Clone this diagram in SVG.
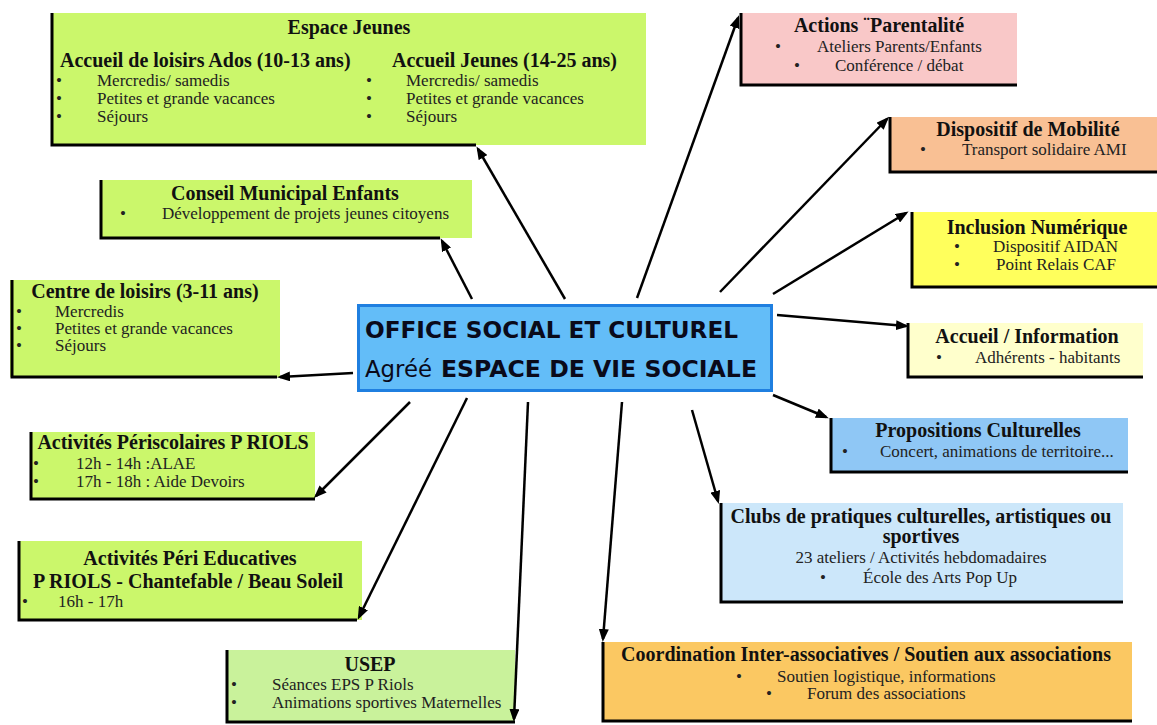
<svg xmlns="http://www.w3.org/2000/svg" width="1157" height="725" viewBox="0 0 1157 725">
<defs>
<marker id="ah" viewBox="0 0 13 10" refX="10" refY="5" markerWidth="13" markerHeight="10" markerUnits="userSpaceOnUse" orient="auto">
<path d="M0,0 L13,5 L0,10 z" fill="#000"/>
</marker>
</defs>
<style>
.t{font-family:"Liberation Serif","Times New Roman",serif;font-weight:bold;font-size:20px;fill:#111}
.b{font-family:"Liberation Serif","Times New Roman",serif;font-size:17px;fill:#222}
.c{text-anchor:middle}
.edge{stroke:#000;stroke-width:3;fill:none}
.green{fill:#cbf76b}
.conn line{stroke:#000;stroke-width:2.5;marker-end:url(#ah)}
.m{font-family:"DejaVu Sans","Verdana",sans-serif;font-size:23px;fill:#0a0a1a}
</style>
<rect width="1157" height="725" fill="#fff"/>

<g id="espace-jeunes">
<rect class="green" x="51" y="13" width="595" height="132"/>
<path class="edge" d="M52,13 V145 H476"/>
<text class="t c" x="349" y="34">Espace Jeunes</text>
<text class="t" x="60" y="67">Accueil de loisirs Ados (10-13 ans)</text>
<text class="t" x="392" y="67">Accueil Jeunes (14-25 ans)</text>
<text class="b" x="56" y="86">•</text><text class="b" x="97" y="86">Mercredis/ samedis</text>
<text class="b" x="56" y="104">•</text><text class="b" x="97" y="104">Petites et grande vacances</text>
<text class="b" x="56" y="122">•</text><text class="b" x="97" y="122">Séjours</text>
<text class="b" x="366" y="86">•</text><text class="b" x="406" y="86">Mercredis/ samedis</text>
<text class="b" x="366" y="104">•</text><text class="b" x="406" y="104">Petites et grande vacances</text>
<text class="b" x="366" y="122">•</text><text class="b" x="406" y="122">Séjours</text>
</g>

<g id="conseil-municipal">
<rect class="green" x="100" y="180" width="372" height="58"/>
<path class="edge" d="M101,180 V238 H440"/>
<text class="t c" x="285" y="200">Conseil Municipal Enfants</text>
<text class="b" x="120" y="219">•</text><text class="b" x="162" y="219">Développement de projets jeunes citoyens</text>
</g>

<g id="centre-loisirs">
<rect class="green" x="10" y="280" width="270" height="97"/>
<path class="edge" d="M12,280 V377 H277"/>
<text class="t c" x="145" y="298">Centre de loisirs (3-11 ans)</text>
<text class="b" x="16" y="317">•</text><text class="b" x="55" y="317">Mercredis</text>
<text class="b" x="16" y="334">•</text><text class="b" x="55" y="334">Petites et grande vacances</text>
<text class="b" x="16" y="351">•</text><text class="b" x="55" y="351">Séjours</text>
</g>

<g id="periscolaires">
<rect class="green" x="30" y="432" width="285" height="67"/>
<path class="edge" d="M31,432 V499 H315"/>
<text class="t c" x="173" y="449">Activités Périscolaires P RIOLS</text>
<text class="b" x="33" y="469">•</text><text class="b" x="76" y="469">12h - 14h :ALAE</text>
<text class="b" x="33" y="487">•</text><text class="b" x="76" y="487">17h - 18h : Aide Devoirs</text>
</g>

<g id="peri-educatives">
<rect class="green" x="18" y="541" width="344" height="79"/>
<path class="edge" d="M19,541 V620 H357"/>
<text class="t c" x="190" y="565">Activités Péri Educatives</text>
<text class="t c" x="188" y="588">P RIOLS - Chantefable / Beau Soleil</text>
<text class="b" x="22" y="607">•</text><text class="b" x="58" y="607">16h - 17h</text>
</g>

<g id="usep">
<rect x="226" y="650" width="289" height="73" fill="#c9f29b"/>
<path class="edge" d="M227,650 V722 H515"/>
<text class="t c" x="370" y="671">USEP</text>
<text class="b" x="231" y="690">•</text><text class="b" x="272" y="690">Séances EPS P Riols</text>
<text class="b" x="231" y="708">•</text><text class="b" x="272" y="708">Animations sportives Maternelles</text>
</g>

<g id="actions-parentalite">
<rect x="740" y="13" width="277" height="72" fill="#f9c8c8"/>
<path class="edge" d="M741,13 V85 H1017"/>
<text class="t c" x="879" y="32">Actions ¨Parentalité</text>
<text class="b" x="775" y="52">•</text><text class="b" x="817" y="52">Ateliers Parents/Enfants</text>
<text class="b" x="794" y="71">•</text><text class="b" x="835" y="71">Conférence / débat</text>
</g>

<g id="mobilite">
<rect x="889" y="117" width="268" height="55" fill="#f9c094"/>
<path class="edge" d="M890,117 V172 H1157"/>
<text class="t c" x="1028" y="136">Dispositif de Mobilité</text>
<text class="b" x="920" y="155">•</text><text class="b" x="962" y="155">Transport solidaire AMI</text>
</g>

<g id="inclusion-numerique">
<rect x="911" y="212" width="246" height="75" fill="#ffff5c"/>
<path class="edge" d="M912,212 V287 H1157"/>
<text class="t c" x="1037" y="234">Inclusion Numérique</text>
<text class="b" x="954" y="252">•</text><text class="b" x="993" y="252">Dispositif AIDAN</text>
<text class="b" x="954" y="270">•</text><text class="b" x="996" y="270">Point Relais CAF</text>
</g>

<g id="accueil-information">
<rect x="907" y="323" width="236" height="54" fill="#ffffcc"/>
<path class="edge" d="M908,323 V377 H1143"/>
<text class="t c" x="1027" y="343">Accueil / Information</text>
<text class="b" x="936" y="363">•</text><text class="b" x="975" y="363">Adhérents - habitants</text>
</g>

<g id="propositions-culturelles">
<rect x="830" y="418" width="298" height="54" fill="#8fc7f5"/>
<path class="edge" d="M831,418 V472 H1128"/>
<text class="t c" x="978" y="437">Propositions Culturelles</text>
<text class="b" x="842" y="457">•</text><text class="b" x="880" y="457">Concert, animations de territoire...</text>
</g>

<g id="clubs">
<rect x="720" y="503" width="403" height="99" fill="#cce7fa"/>
<path class="edge" d="M721,503 V602 H1123"/>
<text class="t c" x="921" y="523">Clubs de pratiques culturelles, artistiques ou</text>
<text class="t c" x="921" y="543">sportives</text>
<text class="b c" x="921" y="563">23 ateliers / Activités hebdomadaires</text>
<text class="b" x="820" y="583">•</text><text class="b" x="863" y="583">École des Arts Pop Up</text>
</g>

<g id="coordination">
<rect x="602" y="642" width="530" height="79" fill="#fbc862"/>
<path class="edge" d="M603,642 V721 H1132"/>
<text class="t c" x="866" y="661">Coordination Inter-associatives / Soutien aux associations</text>
<text class="b" x="736" y="682">•</text><text class="b" x="777" y="682">Soutien logistique, informations</text>
<text class="b" x="766" y="699">•</text><text class="b" x="807" y="699">Forum des associations</text>
</g>

<g id="office-central">
<rect x="358.5" y="305.5" width="413" height="85" fill="#63bdf8" stroke="#1f7fe0" stroke-width="3"/>
<text class="m" x="365" y="338" font-weight="bold" textLength="373" lengthAdjust="spacingAndGlyphs">OFFICE SOCIAL ET CULTUREL</text>
<text class="m" x="365" y="377" textLength="67" lengthAdjust="spacingAndGlyphs">Agréé</text>
<text class="m" x="441" y="377" font-weight="bold" textLength="316" lengthAdjust="spacingAndGlyphs">ESPACE DE VIE SOCIALE</text>
</g>

<g id="connectors" class="conn">
<line x1="565" y1="299" x2="478" y2="149"/>
<line x1="472" y1="299" x2="442" y2="241"/>
<line x1="353" y1="373" x2="280" y2="377"/>
<line x1="410" y1="402" x2="316" y2="496"/>
<line x1="467" y1="398" x2="359" y2="617"/>
<line x1="528" y1="402" x2="514" y2="719"/>
<line x1="622" y1="402" x2="603" y2="639"/>
<line x1="692" y1="410" x2="718" y2="501"/>
<line x1="773" y1="395" x2="826" y2="417"/>
<line x1="777" y1="315" x2="906" y2="326"/>
<line x1="773" y1="294" x2="906" y2="213"/>
<line x1="720" y1="292" x2="887" y2="119"/>
<line x1="637" y1="298" x2="738" y2="18"/>
</g>
</svg>
